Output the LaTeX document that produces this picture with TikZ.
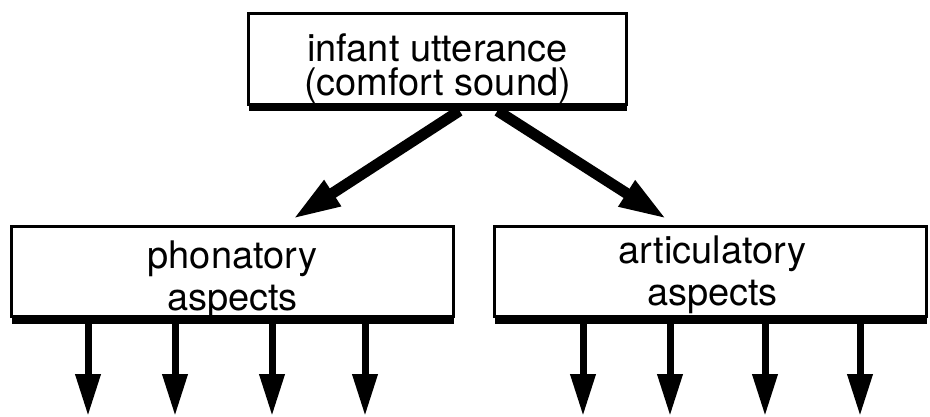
\documentclass[tikz,border=0pt]{standalone}
\usepackage{fontspec}
\setmainfont{TeX Gyre Heros}
\usetikzlibrary{positioning}
\usetikzlibrary{arrows.meta}
\usetikzlibrary{shadows}

\tikzset{
    aspectbox/.style={draw, line width=2.6pt, fill=white, inner sep=0pt,
        general shadow={shadow yshift=-7pt, fill=black}},
    aspecttext/.style={align=center, inner sep=0pt, anchor=base, font=\fontsize{38}{#1}\selectfont},
    thickarrow/.style={line width=11pt, -{Triangle[length=48pt,width=28pt]}},
    thinarrow/.style={line width=7pt, -{Triangle[length=42pt,width=24pt]}}
}

\begin{document}
\begin{tikzpicture}[x=1pt, y=-1pt]
        \useasboundingbox (0,0) rectangle (930,417);

        % frames
        \node[aspectbox, minimum width=378pt, minimum height=91pt] (utterance) at (437.5,59) {};
        \node[aspectbox, minimum width=442pt, minimum height=90pt] (phonatory) at (232.5,271.5) {};
        \node[aspectbox, minimum width=432pt, minimum height=90pt] (articulatory) at (710.5,271.5) {};

        % texts, placed by the baseline of their last line
        \node[aspecttext=34pt] (utterancetext) at (437.5,96) {infant utterance\\(comfort sound)};
        \node[aspecttext=42pt] (phonatorytext) at (232.5,310) {phonatory\\aspects};
        \node[aspecttext=42pt] (articulatorytext) at (712.5,305) {articulatory\\aspects};

        \draw[thickarrow] ([xshift=22pt,yshift=-5pt]utterance.south) -- ([xshift=60pt,yshift=6pt]phonatory.north);
        \draw[thickarrow] ([xshift=60pt,yshift=-5pt]utterance.south) -- ([xshift=-43.5pt,yshift=6pt]articulatory.north);

        \foreach \x [count=\i] in {88,175,272,365} {
            \coordinate (ph\i) at (\x,416);
            \draw[thinarrow] (phonatory.south -| ph\i) -- (ph\i);
        }
        \foreach \x [count=\i] in {583,670,765,860} {
            \coordinate (ar\i) at (\x,416);
            \draw[thinarrow] (articulatory.south -| ar\i) -- (ar\i);
        }
\end{tikzpicture}
\end{document}
